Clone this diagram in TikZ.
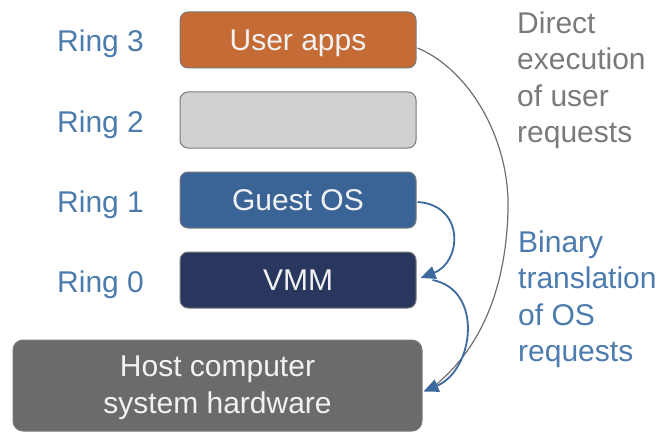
\documentclass[tikz,border=0pt]{standalone}
\usepackage{fontspec}
\setmainfont{Liberation Sans}
\usetikzlibrary{calc,arrows.meta}
\definecolor{cOrange}{HTML}{C46B36}
\definecolor{cLight}{HTML}{D0D0D0}
\definecolor{cGuest}{HTML}{3A6496}
\definecolor{cVmm}{HTML}{29365E}
\definecolor{cHost}{HTML}{6B6B6D}
\definecolor{cEdge}{HTML}{7A7A7A}
\definecolor{cRing}{HTML}{4C7BAE}
\definecolor{cGrayText}{HTML}{7A7A7A}
\definecolor{cBlueArrow}{HTML}{3C6A9E}
\definecolor{cGrayArrow}{HTML}{6E6E6E}
\definecolor{cBoxText}{HTML}{F2F2F2}
\tikzset{
  bigfont/.style={font=\fontsize{30}{36.5}\selectfont},
  ringbox/.style={draw=cEdge, line width=1pt, rounded corners=8pt,
    minimum width=236pt, minimum height=56pt, inner sep=0pt,
    text height=27pt, text depth=5.5pt, text=cBoxText, bigfont},
  ringlabel/.style={anchor=base west, inner sep=0pt, text=cRing, bigfont},
  sidetext/.style={anchor=north west, inner sep=0pt, align=left, bigfont},
  bluearrow/.style={draw=cBlueArrow, line width=1.8pt,
    -{Triangle[length=15pt,width=13pt]}},
  grayarrow/.style={draw=cGrayArrow, line width=1.2pt},
}
\begin{document}
\begin{tikzpicture}[x=1pt,y=-1pt]
\useasboundingbox (0,0) rectangle (660,433);
\node[ringbox, fill=cOrange] (user) at (298,40) {User apps};
\node[ringbox, fill=cLight] (r2) at (298,120) {};
\node[ringbox, fill=cGuest] (guest) at (298,200) {Guest OS};
\node[ringbox, fill=cVmm] (vmm) at (298,280) {VMM};
\node[draw=cEdge, line width=1pt, fill=cHost, rounded corners=10pt,
  minimum width=409pt, minimum height=91pt, inner sep=0pt] (host) at (217.5,385.5) {};
\node[inner sep=0pt, align=center, text=cBoxText, bigfont] (hosttext) at (217.5,388)
  {Host computer\\system hardware};
\node[ringlabel] (l3) at (57,52) {Ring 3};
\node[ringlabel] (l2) at (57,132) {Ring 2};
\node[ringlabel] (l1) at (57,212) {Ring 1};
\node[ringlabel] (l0) at (57,292) {Ring 0};
\node[sidetext, text=cGrayText] (direct) at (517,11.5) {Direct\\execution\\of user\\requests};
\node[sidetext, text=cRing] (binary) at (518,230.5) {Binary\\translation\\of OS\\requests};
\coordinate (gs) at ($(user.east)+(1,8)$);
\coordinate (ge) at ($(host.east)+(10,2)$);
\draw[grayarrow] (gs) .. controls (470,70) and (510,140) .. (508,210)
  .. controls (506,290) and (480,350) .. (ge);
\coordinate (b1s) at ($(guest.east)+(1,2)$);
\coordinate (b1e) at ($(vmm.east)+(4,-2)$);
\draw[bluearrow] (b1s) .. controls (465,205) and (462,262) .. (b1e);
\coordinate (b2s) at ($(vmm.east)+(16,0)$);
\coordinate (b2e) at ($(host.east)+(1,6)$);
\draw[bluearrow] (b2s) .. controls (484,290) and (474,370) .. (b2e);
\end{tikzpicture}
\end{document}
